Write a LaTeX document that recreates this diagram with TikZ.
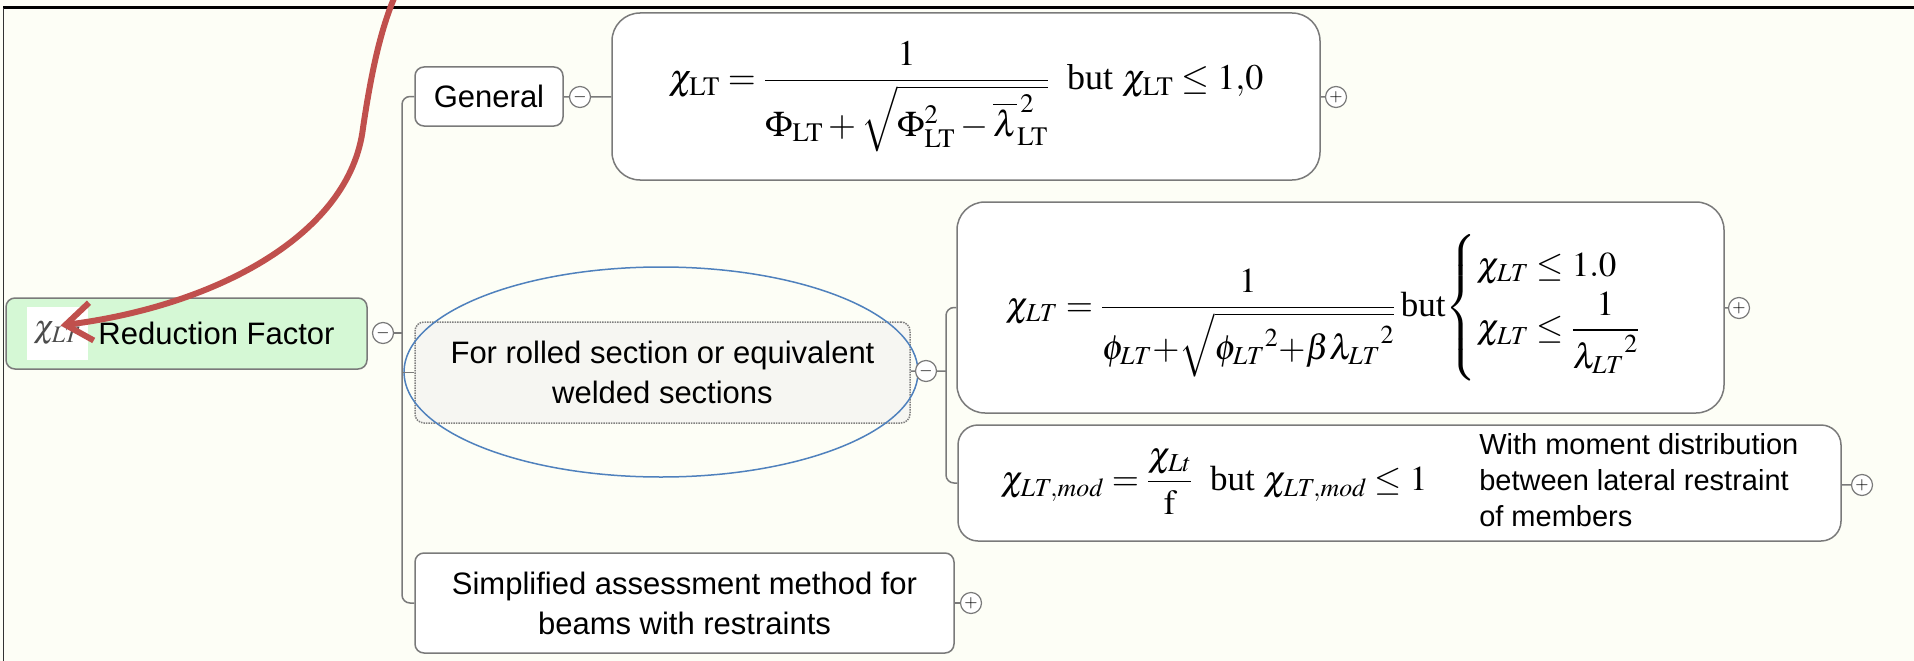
\documentclass[tikz,border=0pt]{standalone}
\usepackage{amsmath}
\usepackage{amssymb}
\usepackage{mathptmx}
\usepackage{fontspec}
\setmainfont{Liberation Serif}
\newfontfamily\mapfont{Liberation Sans}
\usepackage{tikz}
\usetikzlibrary{shapes.geometric, arrows.meta, positioning, calc}

\definecolor{paper}{HTML}{FDFEF6}
\definecolor{rootgreen}{HTML}{D5F8D5}
\definecolor{framegray}{HTML}{7A7A7A}
\definecolor{markred}{HTML}{C0504D}
\definecolor{markblue}{HTML}{4F81BD}
\definecolor{dotfill}{HTML}{F6F6F2}

\begin{document}
\begin{tikzpicture}[
    x=1pt, y=-1pt,
    topic/.style={rectangle, draw=framegray, fill=white, line width=1.5pt, rounded corners=9pt, align=center, font=\mapfont\fontsize{31}{40}\selectfont},
    rootbox/.style={topic, fill=rootgreen, minimum width=361pt, minimum height=71pt},
    formbox/.style={rectangle, draw=framegray, fill=white, line width=1.5pt, rounded corners=28pt, inner sep=0pt},
    fold/.style={circle, draw=framegray, fill=white, line width=1.2pt, minimum size=21pt, inner sep=0pt, font=\fontsize{17}{17}\selectfont},
    branch/.style={draw=framegray, line width=1.5pt}
]
    \useasboundingbox (0,0) rectangle (1914,661);
    \fill[paper] (0,0) rectangle (1914,661);
    \draw[black, line width=3pt] (3,8) -- (1914,8);
    \draw[black!80, line width=1.2pt] (3.5,8) -- (3.5,661);

    \node (root) [rootbox] at (186.5,333.5) {\hspace*{60pt}Reduction Factor};
    \node (chi) [fill=white, minimum width=61pt, minimum height=53pt, inner sep=0pt, text=black!70, font=\fontsize{32}{32}\selectfont] at (57.5,333.5) {$\chi_{LT}$};
    \node (rootfold) [fold] at (383,333) {$-$};

    \node (general) [topic, minimum width=148pt, minimum height=59pt] at (489,96.5) {General};
    \node (genfold) [fold] at (580,97) {$-$};
    \node (chigen) [formbox, minimum width=708pt, minimum height=167pt, font=\fontsize{36}{44}\selectfont] at (966,96.5) {$\chi_{\mathrm{LT}} = \dfrac{1}{\Phi_{\mathrm{LT}} + \sqrt{\Phi_{\mathrm{LT}}^{2} - \overline{\lambda}_{\mathrm{LT}}^{\,2}}}$\ \ but $\chi_{\mathrm{LT}} \le 1{,}0$};
    \node (genplus) [fold] at (1336,97) {$+$};

    \node (rolled) [topic, draw=gray, densely dotted, fill=dotfill, minimum width=495pt, minimum height=101pt] at (662.5,372.5) {For rolled section or equivalent\\welded sections};
    \node (circled) [ellipse, draw=markblue, line width=1.5pt, minimum width=514pt, minimum height=210pt] at (661,372) {};
    \node (rolledfold) [fold] at (926,371) {$-$};

    \node (chiroll) [formbox, minimum width=767pt, minimum height=211pt, font=\fontsize{35}{42}\selectfont] at (1340.5,307.5) {$\chi_{LT} = \dfrac{1}{\phi_{LT}{+}\sqrt{{\phi_{LT}}^{2}{+}\beta{\lambda_{LT}}^{2}}}$\,but$\begin{cases}\chi_{LT} \le 1.0\\ \chi_{LT} \le \dfrac{1}{{\lambda_{LT}}^{2}}\end{cases}$};
    \node (rollplus) [fold] at (1739,308) {$+$};
    \node (chimod) [formbox, rounded corners=20pt, minimum width=883pt, minimum height=116pt, font=\fontsize{35}{42}\selectfont] at (1399.5,483) {$\chi_{LT,mod} = \dfrac{\chi_{Lt}}{\mathrm{f}}$\ \ but $\chi_{LT,mod} \le 1$\hspace{52pt}{\mapfont\fontsize{29}{36}\selectfont\begin{tabular}{@{}l@{}}With moment distribution\\between lateral restraint\\of members\end{tabular}}};
    \node (modplus) [fold] at (1862,485) {$+$};

    \node (simple) [topic, minimum width=539pt, minimum height=100pt] at (684.5,603) {Simplified assessment method for\\beams with restraints};
    \node (simpleplus) [fold] at (971,603) {$+$};

    \coordinate (trunk) at (402,333);
    \coordinate (subtrunk) at (946,371);
    \coordinate (callout) at (395,-4);
    \coordinate (bend) at (363,128);

    \draw[branch] (rootfold) -- (trunk);
    \draw[branch, rounded corners=8pt] (general) -| (trunk) |- (simple);
    \draw[branch] (trunk |- rolled) -- (rolled);
    \draw[branch] (general) -- (genfold) -- (chigen);
    \draw[branch] (chigen) -- (genplus);
    \draw[branch] (rolled) -- (rolledfold) -- (subtrunk);
    \draw[branch, rounded corners=8pt] (chiroll) -| (subtrunk) |- (chimod);
    \draw[branch] (chiroll) -- (rollplus);
    \draw[branch] (chimod) -- (modplus);
    \draw[branch] (simple) -- (simpleplus);

    \draw[markred, line width=6pt, -{Straight Barb[length=26pt, width=38pt]}] (callout) .. controls (378,35) and (369,88) .. (bend) .. controls (350,235) and (215,306) .. ($(chi.center)+(3,-8)$);
\end{tikzpicture}
\end{document}
